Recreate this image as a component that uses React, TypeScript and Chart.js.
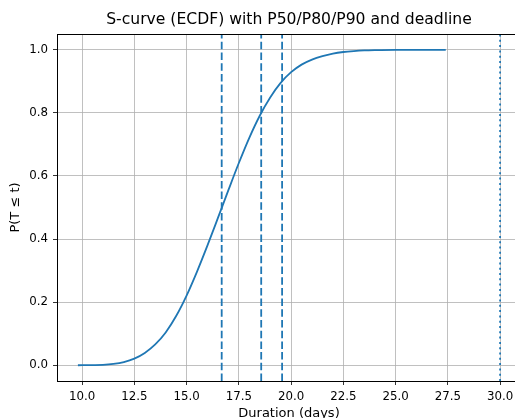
import React, { useEffect, useRef } from "react";
import { Chart, registerables } from "chart.js";

Chart.register(...registerables);

// ECDF curve (duration in days, cumulative probability)
const durations = [9.8, 10.5, 11.0, 11.5, 12.0, 12.5, 13.0, 13.5, 14.0, 14.5, 15.0, 15.5, 16.0, 16.5, 17.0, 17.5, 18.0, 18.5, 19.0, 19.5, 20.0, 20.5, 21.0, 21.5, 22.0, 22.5, 23.0, 23.5, 24.0, 25.0, 26.0, 27.4];
const probabilities = [0.0, 0.0003, 0.001, 0.004, 0.010, 0.021, 0.039, 0.066, 0.104, 0.156, 0.221, 0.297, 0.380, 0.467, 0.555, 0.641, 0.721, 0.791, 0.849, 0.895, 0.929, 0.953, 0.969, 0.980, 0.988, 0.993, 0.996, 0.998, 0.999, 1.0, 1.0, 1.0];

const percentileLines = [16.68, 18.57, 19.57]; // P50, P80, P90
const deadline = 30.0;

const xTicks = [10.0, 12.5, 15.0, 17.5, 20.0, 22.5, 25.0, 27.5, 30.0];
const yTicks = [0.0, 0.2, 0.4, 0.6, 0.8, 1.0];
const xRange = [8.8, 31.0];
const yRange = [-0.05, 1.05];

const BLUE = "#1f77b4";
const FONT = "'DejaVu Sans', sans-serif";

const framePlugin = {
  id: "frame",
  afterDraw(chart: any) {
    const { ctx, chartArea } = chart;
    ctx.save();
    ctx.strokeStyle = "#000";
    ctx.lineWidth = 1;
    ctx.strokeRect(
      Math.round(chartArea.left) + 0.5,
      Math.round(chartArea.top) + 0.5,
      Math.round(chartArea.right - chartArea.left),
      Math.round(chartArea.bottom - chartArea.top)
    );
    ctx.restore();
  },
};

export default function App() {
  const ref = useRef<HTMLCanvasElement | null>(null);

  useEffect(() => {
    if (!ref.current) return;
    const vline = (x: number, dash: number[]) => ({
      data: [
        { x, y: yRange[0] },
        { x, y: yRange[1] },
      ],
      borderColor: BLUE,
      borderWidth: 1.8,
      borderDash: dash,
      borderCapStyle: "butt",
      pointRadius: 0,
      fill: false,
    });
    const chart = new Chart(ref.current, {
      type: "line",
      data: {
        datasets: [
          ...percentileLines.map((v) => vline(v, [7.5, 3.2])),
          vline(deadline, [2, 3.3]),
          {
            data: durations.map((d, i) => ({ x: d, y: probabilities[i] })),
            borderColor: BLUE,
            borderWidth: 1.8,
            pointRadius: 0,
            cubicInterpolationMode: "monotone",
            fill: false,
          },
        ] as any,
      },
      plugins: [framePlugin],
      options: {
        animation: false,
        responsive: false,
        maintainAspectRatio: false,
        layout: { padding: { left: 0, right: 19, top: 0, bottom: 0 } },
        plugins: {
          legend: { display: false },
          tooltip: { enabled: false },
          title: {
            display: true,
            fullSize: false,
            text: "S-curve (ECDF) with P50/P80/P90 and deadline",
            color: "#000",
            font: { family: FONT, size: 15.6, weight: "normal", lineHeight: 1.2 },
            padding: { top: 11, bottom: 4.3 },
          },
        },
        scales: {
          x: {
            type: "linear",
            min: xRange[0],
            max: xRange[1],
            afterBuildTicks: (s: any) => {
              s.ticks = xTicks.map((v) => ({ value: v }));
            },
            afterFit: (s: any) => {
              s.height = 37;
            },
            ticks: {
              color: "#000",
              font: { family: FONT, size: 11.8 },
              padding: 5,
              maxRotation: 0,
              autoSkip: false,
              callback: (v: any) => Number(v).toFixed(1),
            },
            grid: {
              color: "#b0b0b0",
              lineWidth: 0.8,
              tickColor: "#000",
              tickLength: 4,
            },
            border: { display: false },
            title: {
              display: true,
              text: "Duration (days)",
              color: "#000",
              font: { family: FONT, size: 13 },
              padding: { top: 0, bottom: -3.5 },
            },
          },
          y: {
            type: "linear",
            min: yRange[0],
            max: yRange[1],
            afterBuildTicks: (s: any) => {
              s.ticks = yTicks.map((v) => ({ value: v }));
            },
            afterFit: (s: any) => {
              s.width = 57;
            },
            ticks: {
              color: "#000",
              font: { family: FONT, size: 11.8 },
              padding: 5,
              autoSkip: false,
              callback: (v: any) => Number(v).toFixed(1),
            },
            grid: {
              color: "#b0b0b0",
              lineWidth: 0.8,
              tickColor: "#000",
              tickLength: 4,
            },
            border: { display: false },
            title: {
              display: true,
              text: "P(T ≤ t)",
              color: "#000",
              font: { family: FONT, size: 13 },
              padding: { top: 8, bottom: 0 },
            },
          },
        },
      } as any,
    });
    return () => chart.destroy();
  }, []);

  return (
    <div
      style={{
        position: "fixed",
        left: 0,
        top: 0,
        width: 515,
        height: 418,
        overflow: "hidden",
        background: "#fff",
      }}
    >
      <canvas ref={ref} width={540} height={418} style={{ display: "block", width: 540, height: 418 }} />
    </div>
  );
}
